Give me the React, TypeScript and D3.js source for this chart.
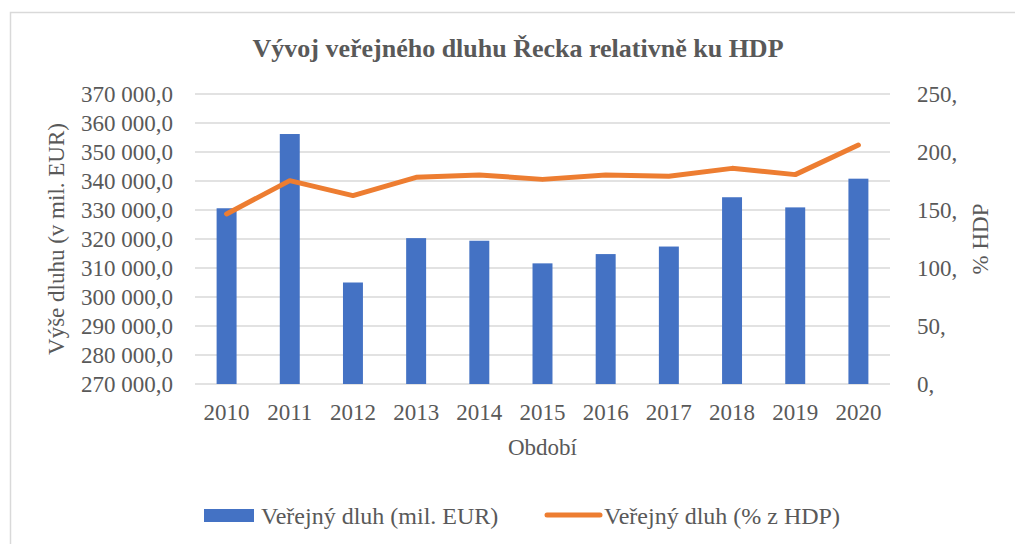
import React, { useEffect, useRef } from 'react';
import * as d3 from 'd3';

const years = ['2010', '2011', '2012', '2013', '2014', '2015', '2016', '2017', '2018', '2019', '2020'];
// veřejný dluh v mil. EUR
const debtEur = [330600, 356200, 305000, 320300, 319400, 311600, 314800, 317400, 334400, 330900, 340800];
// veřejný dluh v % HDP
const debtPct = [146.6, 175.3, 162.4, 178.2, 180.2, 176.4, 180.2, 179.1, 185.9, 180.5, 206.0];
const leftTicks = [270000, 280000, 290000, 300000, 310000, 320000, 330000, 340000, 350000, 360000, 370000];
const rightTicks = [0, 50, 100, 150, 200, 250];

const App = () => {
  const svgRef = useRef<SVGSVGElement>(null);

  useEffect(() => {
    const svg = d3.select(svgRef.current);
    svg.selectAll('*').remove();

    const width = 1015;
    const height = 544;
    const margin = { top: 94, right: 125, bottom: 160, left: 195 };
    const innerWidth = width - margin.left - margin.right;
    const innerHeight = height - margin.top - margin.bottom;
    const font = '"Liberation Serif", "Times New Roman", serif';
    const textColor = '#595959';

    const csLocale = d3.formatLocale({ decimal: ',', thousands: '\u00a0', grouping: [3], currency: ['', ' €'] });
    const fmtLeft = csLocale.format(',.1f');

    // frame
    svg.append('rect')
      .attr('x', 10.5).attr('y', 12.5)
      .attr('width', 1100).attr('height', 700)
      .attr('fill', '#fff').attr('stroke', '#d9d9d9').attr('stroke-width', 1.5);

    svg.append('text')
      .attr('x', 518).attr('y', 57)
      .attr('text-anchor', 'middle')
      .attr('font-family', font).attr('font-size', 26).attr('font-weight', 'bold')
      .attr('fill', textColor)
      .text('Vývoj veřejného dluhu Řecka relativně ku HDP');

    const g = svg.append('g').attr('transform', `translate(${margin.left},${margin.top})`);

    const x = d3.scaleBand().domain(years).range([0, innerWidth]).padding(0);
    const yLeft = d3.scaleLinear().domain([270000, 370000]).range([innerHeight, 0]);
    const yRight = d3.scaleLinear().domain([0, 250]).range([innerHeight, 0]);

    // gridlines
    g.selectAll('.grid')
      .data(leftTicks)
      .join('line')
      .attr('class', 'grid')
      .attr('x1', 0).attr('x2', innerWidth)
      .attr('y1', (d) => yLeft(d)).attr('y2', (d) => yLeft(d))
      .attr('stroke', '#d9d9d9').attr('stroke-width', 1.5);

    // left tick labels
    g.selectAll('.ltick')
      .data(leftTicks)
      .join('text')
      .attr('class', 'ltick')
      .attr('x', -22).attr('y', (d) => yLeft(d))
      .attr('dy', '0.35em')
      .attr('text-anchor', 'end')
      .attr('font-family', font).attr('font-size', 23).attr('fill', textColor)
      .text((d) => fmtLeft(d));

    // right tick labels
    g.selectAll('.rtick')
      .data(rightTicks)
      .join('text')
      .attr('class', 'rtick')
      .attr('x', innerWidth + 27).attr('y', (d) => yRight(d))
      .attr('dy', '0.35em')
      .attr('text-anchor', 'start')
      .attr('font-family', font).attr('font-size', 23).attr('fill', textColor)
      .text((d) => `${d},`);

    // x labels
    g.selectAll('.xtick')
      .data(years)
      .join('text')
      .attr('class', 'xtick')
      .attr('x', (d) => (x(d) ?? 0) + x.bandwidth() / 2)
      .attr('y', innerHeight + 36)
      .attr('text-anchor', 'middle')
      .attr('font-family', font).attr('font-size', 23).attr('fill', textColor)
      .text((d) => d);

    // bars
    const barW = x.bandwidth() * 0.316;
    g.selectAll('.bar')
      .data(debtEur)
      .join('rect')
      .attr('class', 'bar')
      .attr('x', (d, i) => (x(years[i]) ?? 0) + x.bandwidth() / 2 - barW / 2)
      .attr('y', (d) => yLeft(d))
      .attr('width', barW)
      .attr('height', (d) => innerHeight - yLeft(d))
      .attr('fill', '#4472c4');

    // line
    const line = d3.line<number>()
      .x((d, i) => (x(years[i]) ?? 0) + x.bandwidth() / 2)
      .y((d) => yRight(d));
    g.append('path')
      .datum(debtPct)
      .attr('d', line)
      .attr('fill', 'none')
      .attr('stroke', '#ed7d31')
      .attr('stroke-width', 5)
      .attr('stroke-linejoin', 'round')
      .attr('stroke-linecap', 'round');

    // axis titles
    svg.append('text')
      .attr('transform', `translate(64,${margin.top + innerHeight / 2}) rotate(-90)`)
      .attr('text-anchor', 'middle')
      .attr('font-family', font).attr('font-size', 23).attr('fill', textColor)
      .text('Výše dluhu (v mil. EUR)');

    svg.append('text')
      .attr('transform', `translate(988,${margin.top + innerHeight / 2}) rotate(-90)`)
      .attr('text-anchor', 'middle')
      .attr('font-family', font).attr('font-size', 23).attr('fill', textColor)
      .text('% HDP');

    svg.append('text')
      .attr('x', margin.left + innerWidth / 2).attr('y', 455)
      .attr('text-anchor', 'middle')
      .attr('font-family', font).attr('font-size', 23).attr('fill', textColor)
      .text('Období');

    // legend
    const leg = svg.append('g');
    leg.append('rect')
      .attr('x', 204).attr('y', 509).attr('width', 50).attr('height', 13)
      .attr('fill', '#4472c4');
    leg.append('text')
      .attr('x', 261).attr('y', 516).attr('dy', '0.35em')
      .attr('font-family', font).attr('font-size', 24).attr('fill', textColor)
      .text('Veřejný dluh (mil. EUR)');
    leg.append('line')
      .attr('x1', 547).attr('x2', 600).attr('y1', 515).attr('y2', 515)
      .attr('stroke', '#ed7d31').attr('stroke-width', 5).attr('stroke-linecap', 'round');
    leg.append('text')
      .attr('x', 604).attr('y', 516).attr('dy', '0.35em')
      .attr('font-family', font).attr('font-size', 24).attr('fill', textColor)
      .text('Veřejný dluh (% z HDP)');
  }, []);

  return (
    <svg
      ref={svgRef}
      width={1015}
      height={544}
      style={{ position: 'absolute', left: 0, top: 0, background: '#fff' }}
    />
  );
};

export default App;
